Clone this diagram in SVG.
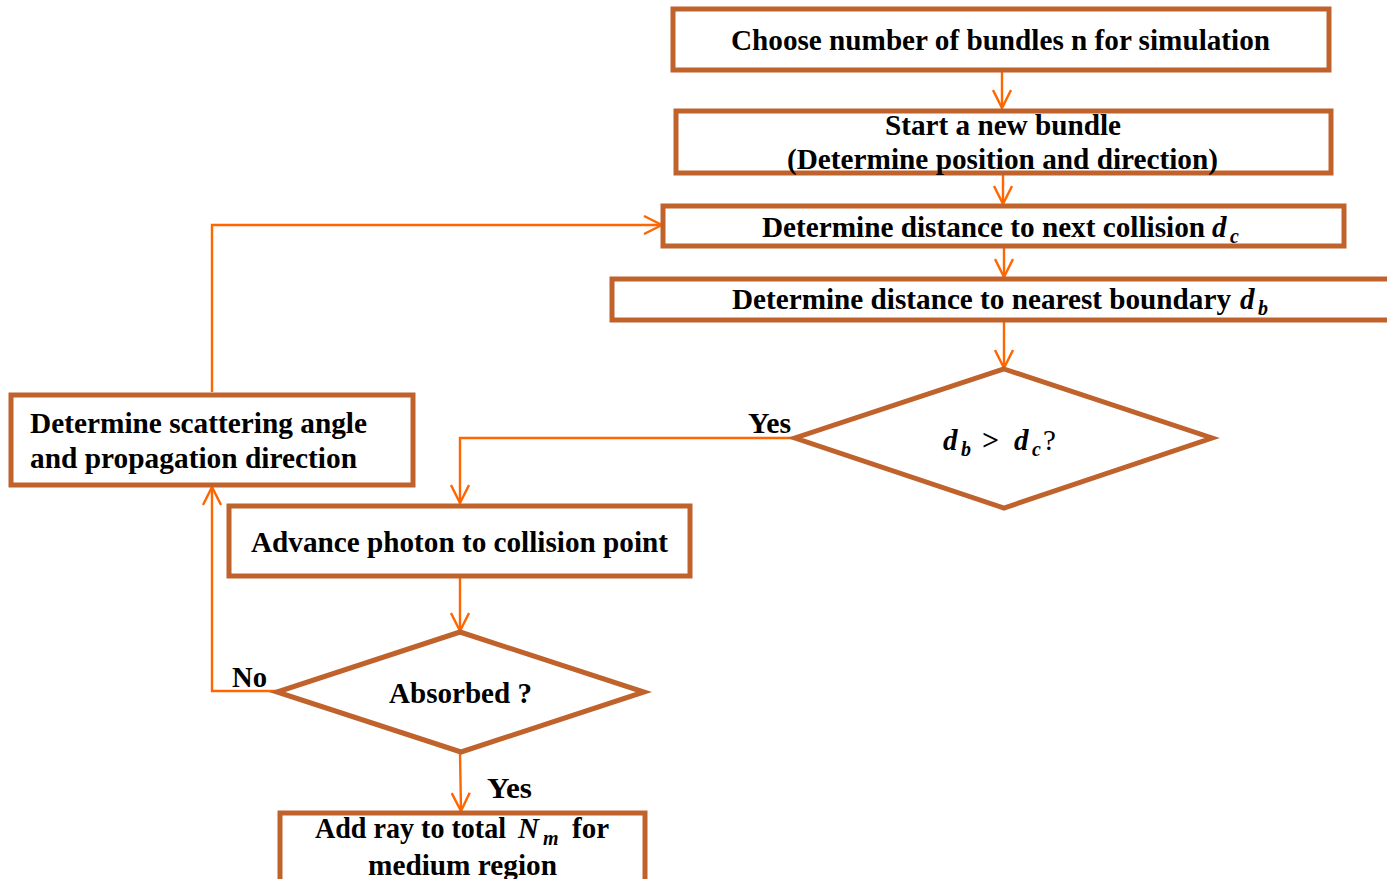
<svg xmlns="http://www.w3.org/2000/svg" width="1387" height="879" viewBox="0 0 1387 879">
<defs>
<style>
.box{fill:#fff;stroke:#C0622C;stroke-width:5;}
.con{fill:none;stroke:#FF6600;stroke-width:2.4;}
.t{font-family:"Liberation Serif","Times New Roman",serif;font-weight:bold;font-size:29px;fill:#000;}
.m{font-family:"Liberation Serif","Times New Roman",serif;font-weight:bold;font-style:italic;fill:#000;}
</style>
<marker id="ah" viewBox="0 0 20 20" refX="19" refY="10" markerWidth="20" markerHeight="20" markerUnits="userSpaceOnUse" orient="auto">
<path d="M1,1 L19,10 L1,19" fill="none" stroke="#FF6600" stroke-width="2.4"/>
</marker>
</defs>
<rect width="1387" height="879" fill="#fff"/>

<g id="connectors">
<line class="con" x1="1002" y1="72" x2="1002" y2="108" marker-end="url(#ah)"/>
<line class="con" x1="1003" y1="175" x2="1003" y2="204" marker-end="url(#ah)"/>
<line class="con" x1="1004" y1="248" x2="1004" y2="277" marker-end="url(#ah)"/>
<line class="con" x1="1004" y1="322" x2="1004" y2="368" marker-end="url(#ah)"/>
<polyline class="con" points="795,438 460,438 460,503" marker-end="url(#ah)"/>
<polyline class="con" points="212,392 212,225 662,225" marker-end="url(#ah)"/>
<line class="con" x1="460" y1="578" x2="460" y2="631" marker-end="url(#ah)"/>
<polyline class="con" points="277,691 212,691 212,487" marker-end="url(#ah)"/>
<line class="con" x1="460" y1="752" x2="461" y2="811" marker-end="url(#ah)"/>
<text class="t" x="748" y="433" textLength="43" lengthAdjust="spacingAndGlyphs">Yes</text>
<text class="t" x="232" y="687" textLength="35" lengthAdjust="spacingAndGlyphs">No</text>
<text class="t" x="487" y="798" textLength="45" lengthAdjust="spacingAndGlyphs">Yes</text>
</g>

<g id="n1">
<rect class="box" x="673" y="9" width="656" height="61"/>
<text class="t" x="731" y="50" textLength="539" lengthAdjust="spacingAndGlyphs">Choose number of bundles n for simulation</text>
</g>

<g id="n2">
<rect class="box" x="676" y="111" width="655" height="62"/>
<text class="t" x="885" y="135" textLength="236" lengthAdjust="spacingAndGlyphs">Start a new bundle</text>
<text class="t" x="787" y="169" textLength="431" lengthAdjust="spacingAndGlyphs">(Determine position and direction)</text>
</g>

<g id="n3">
<rect class="box" x="663" y="206" width="681" height="40"/>
<text class="t" x="762" y="237"><tspan textLength="443" lengthAdjust="spacingAndGlyphs">Determine distance to next collision</tspan><tspan class="m" x="1212">d</tspan><tspan class="m" x="1230" y="243" font-size="20">c</tspan></text>
</g>

<g id="n4">
<rect class="box" x="612" y="279" width="800" height="41"/>
<text class="t" x="732" y="309"><tspan textLength="499" lengthAdjust="spacingAndGlyphs">Determine distance to nearest boundary</tspan><tspan class="m" x="1240">d</tspan><tspan class="m" x="1258" y="315" font-size="20">b</tspan></text>
</g>

<g id="n5">
<polygon class="box" points="1004,369 1212,438 1004,508 795,438"/>
<text class="t" x="943" y="450"><tspan class="m">d</tspan><tspan class="m" x="961" y="456" font-size="20">b</tspan><tspan x="982" y="450" font-style="normal" font-size="30">&gt;</tspan><tspan class="m" x="1014" y="450">d</tspan><tspan class="m" x="1032" y="456" font-size="20">c</tspan><tspan x="1043" y="450" font-weight="normal">?</tspan></text>
</g>

<g id="n6">
<rect class="box" x="11" y="395" width="402" height="90"/>
<text class="t" x="30" y="433" textLength="337" lengthAdjust="spacingAndGlyphs">Determine scattering angle</text>
<text class="t" x="30" y="468" textLength="327" lengthAdjust="spacingAndGlyphs">and propagation direction</text>
</g>

<g id="n7">
<rect class="box" x="229" y="506" width="461" height="70"/>
<text class="t" x="251" y="552" textLength="417" lengthAdjust="spacingAndGlyphs">Advance photon to collision point</text>
</g>

<g id="n8">
<polygon class="box" points="460,632 644,692 461,752 277,692"/>
<text class="t" x="389" y="703" textLength="143" lengthAdjust="spacingAndGlyphs">Absorbed ?</text>
</g>

<g id="n9">
<rect class="box" x="280" y="813" width="365" height="80"/>
<text class="t" x="315" y="838"><tspan textLength="198" lengthAdjust="spacingAndGlyphs">Add ray to total </tspan><tspan class="m" x="518">N</tspan><tspan class="m" x="543" y="845" font-size="20">m</tspan><tspan x="572" y="838">for</tspan></text>
<text class="t" x="368" y="875" textLength="189" lengthAdjust="spacingAndGlyphs">medium region</text>
</g>
</svg>
